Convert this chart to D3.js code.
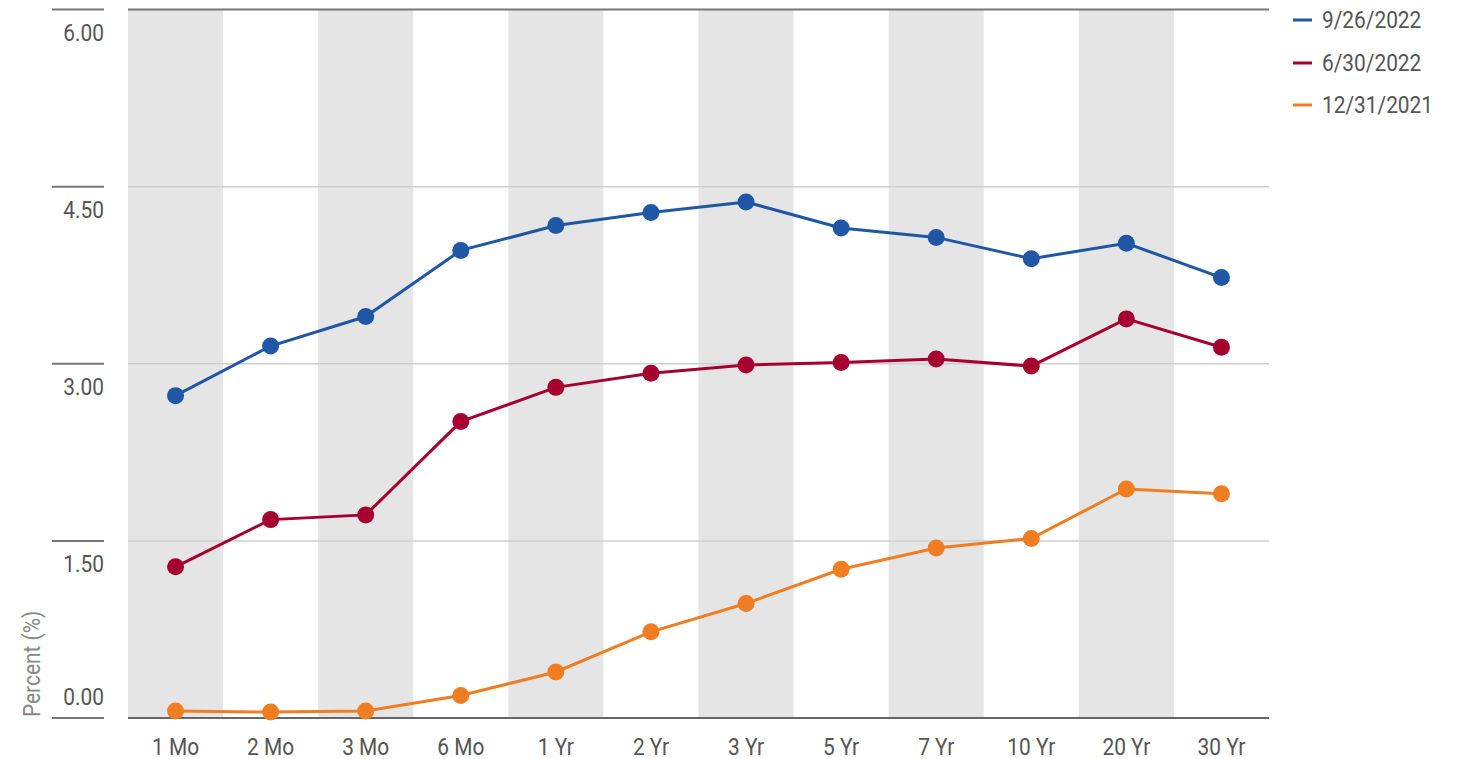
<!DOCTYPE html>
<html>
<head>
<meta charset="utf-8">
<script src="https://cdn.jsdelivr.net/npm/d3@7"></script>
<style>
  html, body { margin: 0; padding: 0; background: #fff; }
  svg { display: block; }
  text { font-family: Roboto, "Liberation Sans", sans-serif; }
</style>
</head>
<body>
<svg id="chart" width="1458" height="759"></svg>
<script>
const categories = ["1 Mo","2 Mo","3 Mo","6 Mo","1 Yr","2 Yr","3 Yr","5 Yr","7 Yr","10 Yr","20 Yr","30 Yr"];
const seriesNames = ["9/26/2022","6/30/2022","12/31/2021"];
const values_2022_09_26 = [2.73,3.15,3.40,3.96,4.17,4.28,4.37,4.15,4.07,3.89,4.02,3.73];
const values_2022_06_30 = [1.28,1.68,1.72,2.51,2.80,2.92,2.99,3.01,3.04,2.98,3.38,3.14];
const values_2021_12_31 = [0.06,0.05,0.06,0.19,0.39,0.73,0.97,1.26,1.44,1.52,1.94,1.90];
const yTicks = [0, 1.5, 3, 4.5, 6];
const yLabels = ["0.00","1.50","3.00","4.50","6.00"];
const colors = ["#1f56a6","#a50030","#f07d22"];

const series = [values_2022_09_26, values_2022_06_30, values_2021_12_31];

const svg = d3.select("#chart");
const x = d3.scaleBand().domain(categories).range([128, 1269]);
const y = d3.scaleLinear().domain([0, 6]).range([718, 9.5]);
const SX = 0.87;
const textColor = "#555";

// bands
svg.append("g").selectAll("rect")
  .data(categories.filter((d, i) => i % 2 === 0))
  .join("rect")
  .attr("x", d => x(d))
  .attr("width", x.bandwidth())
  .attr("y", y(6))
  .attr("height", y(0) - y(6))
  .attr("fill", "#e5e5e5");

// gridlines
svg.append("g").selectAll("line")
  .data(yTicks.filter(t => t > 0 && t < 6))
  .join("line")
  .attr("x1", 128).attr("x2", 1269)
  .attr("y1", d => y(d)).attr("y2", d => y(d))
  .attr("stroke", "#cfcfcf").attr("stroke-width", 1.5);

// top and bottom lines
svg.append("line").attr("x1", 128).attr("x2", 1269).attr("y1", y(6)).attr("y2", y(6))
  .attr("stroke", "#777").attr("stroke-width", 2);
svg.append("line").attr("x1", 128).attr("x2", 1269).attr("y1", y(0)).attr("y2", y(0))
  .attr("stroke", "#666").attr("stroke-width", 2);

// y ticks
const yg = svg.append("g");
yg.selectAll("line").data(yTicks).join("line")
  .attr("x1", 52).attr("x2", 104)
  .attr("y1", d => y(d)).attr("y2", d => y(d))
  .attr("stroke", "#777").attr("stroke-width", 2);
yg.selectAll("text").data(yTicks).join("text")
  .attr("transform", d => `translate(104,${d === 0 ? y(d) - 13 : y(d) + 31}) scale(${SX},1)`)
  .attr("text-anchor", "end")
  .attr("font-size", 24)
  .attr("fill", textColor)
  .text((d, i) => yLabels[i]);

// y axis title
svg.append("text")
  .attr("transform", `translate(40,717) rotate(-90) scale(${SX},1)`)
  .attr("font-size", 24)
  .attr("fill", "#888")
  .text("Percent (%)");

// x labels
svg.append("g").selectAll("text").data(categories).join("text")
  .attr("transform", d => `translate(${x(d) + x.bandwidth() / 2},755) scale(${SX},1)`)
  .attr("text-anchor", "middle")
  .attr("font-size", 24)
  .attr("fill", textColor)
  .text(d => d);

// lines and points (draw oldest first)
const line = d3.line()
  .x((d, i) => x(categories[i]) + x.bandwidth() / 2)
  .y(d => y(d));

for (let s = series.length - 1; s >= 0; s--) {
  const g = svg.append("g");
  g.append("path")
    .datum(series[s])
    .attr("d", line)
    .attr("fill", "none")
    .attr("stroke", colors[s])
    .attr("stroke-width", 3);
  g.selectAll("circle").data(series[s]).join("circle")
    .attr("cx", (d, i) => x(categories[i]) + x.bandwidth() / 2)
    .attr("cy", d => y(d))
    .attr("r", 8.5)
    .attr("fill", colors[s]);
}

// legend
const lg = svg.append("g");
const legendY = [20, 63, 105];
seriesNames.forEach((name, i) => {
  lg.append("line")
    .attr("x1", 1293).attr("x2", 1312)
    .attr("y1", legendY[i]).attr("y2", legendY[i])
    .attr("stroke", colors[i]).attr("stroke-width", 3);
  lg.append("text")
    .attr("transform", `translate(1322,${legendY[i] + 8}) scale(${SX},1)`)
    .attr("font-size", 24)
    .attr("fill", textColor)
    .text(name);
});
</script>
</body>
</html>
